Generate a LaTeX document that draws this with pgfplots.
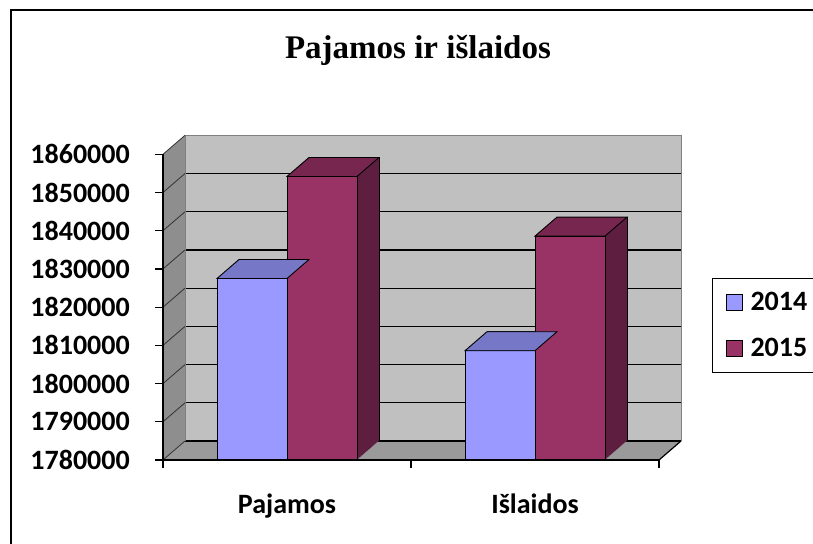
\documentclass[border=0pt]{standalone}
\usepackage{fontspec}
\usepackage{pgfplots}
\usepackage{pgfplotstable}
\pgfplotsset{compat=1.18}
\newfontfamily\carlito{Carlito}
\newfontfamily\tnr{Liberation Serif}
\definecolor{c2014}{HTML}{9999FF}
\definecolor{top2014}{HTML}{7777C8}
\definecolor{side2014}{HTML}{4D4D80}
\definecolor{c2015}{HTML}{993366}
\definecolor{top2015}{HTML}{77274F}
\definecolor{side2015}{HTML}{5E1E40}
\definecolor{wallback}{HTML}{C0C0C0}
\definecolor{wallside}{HTML}{8E8E8E}
\definecolor{floorc}{HTML}{9A9A9A}

\pgfdeclareplotmark{topface}{%
  \pgfpathmoveto{\pgfqpoint{-35pt}{0pt}}%
  \pgfpathlineto{\pgfqpoint{35pt}{0pt}}%
  \pgfpathlineto{\pgfqpoint{57pt}{19pt}}%
  \pgfpathlineto{\pgfqpoint{-13pt}{19pt}}%
  \pgfpathclose
  \pgfusepathqfillstroke}

\pgfplotstableread{
x v2014 v2015
0 1827500 1854200
1 1808600 1838600
}\datatable

\begin{document}
\begin{tikzpicture}
\useasboundingbox (0,0) rectangle (813pt,543pt);
\draw[line width=1.6pt] (11pt,-20pt) rectangle (840pt,533pt);
\begin{axis}[
  at={(163pt,83pt)}, anchor=south west,
  scale only axis, width=496pt, height=305.7pt,
  xmin=-0.5, xmax=1.5, ymin=0, ymax=80000,
  clip=false, axis on top,
  axis x line*=bottom, axis y line*=left,
  axis line style={line width=1.3pt, -},
  tick align=outside,
  major tick length=8pt, minor tick length=8pt,
  scaled y ticks=false,
  ytick={0,10000,20000,30000,40000,50000,60000,70000,80000},
  yticklabels={1780000,1790000,1800000,1810000,1820000,1830000,1840000,1850000,1860000},
  xtick={0,1}, xticklabels={Pajamos,Išlaidos},
  minor xtick={-0.5,0.5,1.5},
  major x tick style={draw=none},
  minor x tick style={line width=1.2pt, black},
  major y tick style={line width=1.2pt, black},
  yticklabel style={font=\carlito\bfseries\fontsize{28}{30}\selectfont, anchor=east, inner sep=0pt, xshift=-25pt},
  xticklabel style={font=\carlito\bfseries\fontsize{28}{30}\selectfont, anchor=base, inner sep=0pt, yshift=-45pt},
  title={Pajamos ir išlaidos},
  title style={font=\tnr\bfseries\fontsize{33}{36}\selectfont, at={(0.5,1)}, anchor=base, inner sep=0pt, xshift=7pt, yshift=90pt},
  legend style={at={(1.1069,0.5953)}, anchor=north west, draw=black, line width=1.2pt,
    font=\carlito\bfseries\fontsize{28}{30}\selectfont, inner xsep=13pt, inner ysep=12pt,
    row sep=22pt, column sep=4pt, nodes={inner xsep=4pt, inner ysep=2pt, text width=90pt, align=left}},
  legend cell align=left,
]
% walls and floor
\fill[wallback] ([shift={(22pt,19pt)}]axis cs:-0.5,0) rectangle ([shift={(22pt,19pt)}]axis cs:1.5,80000);
\fill[wallside] (axis cs:-0.5,0) -- ([shift={(22pt,19pt)}]axis cs:-0.5,0) -- ([shift={(22pt,19pt)}]axis cs:-0.5,80000) -- (axis cs:-0.5,80000) -- cycle;
\fill[floorc] (axis cs:-0.5,0) -- (axis cs:1.5,0) -- ([shift={(22pt,19pt)}]axis cs:1.5,0) -- ([shift={(22pt,19pt)}]axis cs:-0.5,0) -- cycle;
\pgfplotsinvokeforeach{0,10000,20000,30000,40000,50000,60000,70000}{
  \draw[line width=1.2pt, black] ([shift={(22pt,19pt)}]axis cs:-0.5,#1) -- ([shift={(22pt,19pt)}]axis cs:1.5,#1);
}
\pgfplotsinvokeforeach{0,10000,20000,30000,40000,50000,60000,70000,80000}{
  \draw[line width=0.8pt, black!80] (axis cs:-0.5,#1) -- ++(22pt,19pt);
}
\draw[line width=1pt, gray] ([shift={(22pt,19pt)}]axis cs:-0.5,0) -- ([shift={(22pt,19pt)}]axis cs:-0.5,80000) -- ([shift={(22pt,19pt)}]axis cs:1.5,80000) -- ([shift={(22pt,19pt)}]axis cs:1.5,0);
\draw[line width=1.2pt, black] (axis cs:1.5,0) -- ++(22pt,19pt);

% ---- 2014 ----
\addplot[ybar, bar width=70pt, bar shift=-35pt, fill=side2014, draw=black, line width=0.9pt, forget plot, xshift=22pt, yshift=19pt]
  table[x=x, y expr=\thisrow{v2014}-1780000]{\datatable};
\pgfplotsinvokeforeach{21,20,...,1}{
  \addplot[ybar, bar width=70pt, bar shift=-35pt, fill=side2014, draw=none, forget plot, xshift=#1pt, yshift=#1*0.8636pt]
    table[x=x, y expr=\thisrow{v2014}-1780000]{\datatable};
}
\addplot[only marks, mark=topface, mark options={fill=top2014, draw=black, line width=0.9pt}, forget plot]
  table[x expr=\thisrow{x}-0.141129, y expr=\thisrow{v2014}-1780000]{\datatable};
\addplot[ybar, bar width=70pt, bar shift=-35pt, fill=c2014, draw=black, line width=0.9pt,
  legend image code/.code={\draw[fill=c2014, draw=black, line width=0.9pt] (0pt,-8pt) rectangle (16pt,8pt);}]
  table[x=x, y expr=\thisrow{v2014}-1780000]{\datatable};
\addlegendentry{2014}

% ---- 2015 ----
\addplot[ybar, bar width=70pt, bar shift=35pt, fill=side2015, draw=black, line width=0.9pt, forget plot, xshift=22pt, yshift=19pt]
  table[x=x, y expr=\thisrow{v2015}-1780000]{\datatable};
\pgfplotsinvokeforeach{21,20,...,1}{
  \addplot[ybar, bar width=70pt, bar shift=35pt, fill=side2015, draw=none, forget plot, xshift=#1pt, yshift=#1*0.8636pt]
    table[x=x, y expr=\thisrow{v2015}-1780000]{\datatable};
}
\addplot[only marks, mark=topface, mark options={fill=top2015, draw=black, line width=0.9pt}, forget plot]
  table[x expr=\thisrow{x}+0.141129, y expr=\thisrow{v2015}-1780000]{\datatable};
\addplot[ybar, bar width=70pt, bar shift=35pt, fill=c2015, draw=black, line width=0.9pt,
  legend image code/.code={\draw[fill=c2015, draw=black, line width=0.9pt] (0pt,-8pt) rectangle (16pt,8pt);}]
  table[x=x, y expr=\thisrow{v2015}-1780000]{\datatable};
\addlegendentry{2015}
\end{axis}
\end{tikzpicture}
\end{document}
